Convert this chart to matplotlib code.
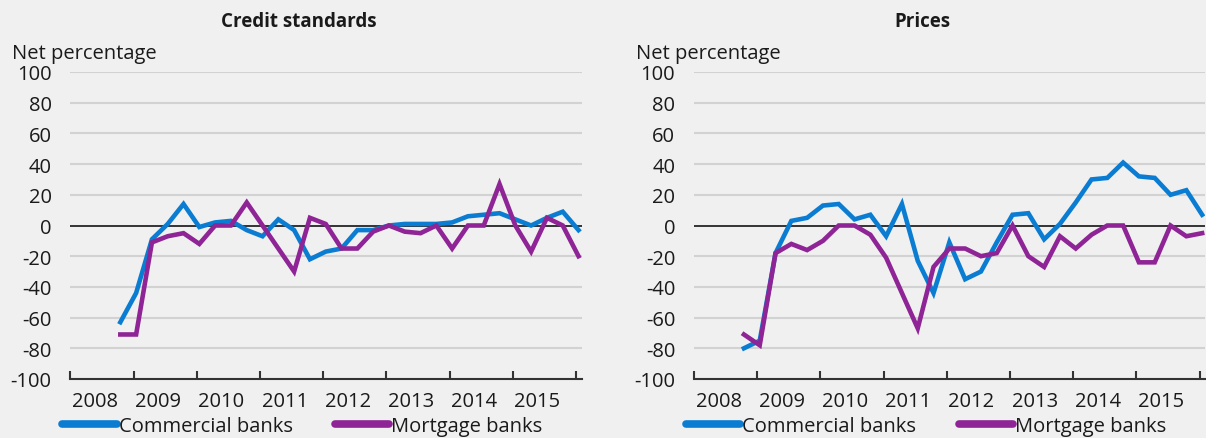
import matplotlib
matplotlib.use("Agg")
import matplotlib.pyplot as plt
from matplotlib.lines import Line2D
import numpy as np
import pandas as pd

# quarterly survey, 2008Q4 - 2016Q1
quarters = pd.period_range("2008Q4", "2016Q1", freq="Q")
years = list(range(2008, 2016))

credit_commercial = [-63, -44, -9, 1, 14, -1, 2, 3, -3, -7, 4, -3, -22, -17, -15,
                     -3, -3, 0, 1, 1, 1, 2, 6, 7, 8, 4, 0, 5, 9, -3]
credit_mortgage = [-71, -71, -11, -7, -5, -12, 0, 0, 15, 0, -15, -30, 5, 1, -15,
                   -15, -4, 0, -4, -5, 0, -15, 0, 0, 27, 0, -17, 5, 0, -20]
prices_commercial = [-80, -75, -18, 3, 5, 13, 14, 4, 7, -7, 14, -23, -44, -11, -35,
                     -30, -11, 7, 8, -9, 1, 15, 30, 31, 41, 32, 31, 20, 23, 7]
prices_mortgage = [-71, -78, -18, -12, -16, -10, 0, 0, -6, -21, -44, -67, -27, -15, -15,
                   -20, -18, 0, -20, -27, -7, -15, -6, 0, 0, -24, -24, 0, -7, -5]

titles = ["Credit standards", "Prices"]
series_names = ["Commercial banks", "Mortgage banks"]

BLUE = "#0a7dd2"
PURPLE = "#8e2495"
BG = "#f0f0f0"
TXT = "#1a1a1a"
FONT = "Open Sans"
FS = 14.5

plt.rcParams["font.family"] = [FONT, "DejaVu Sans"]
plt.rcParams["font.size"] = FS
plt.rcParams["axes.unicode_minus"] = False

# x position of each quarter (mid-month of first month in quarter)
xpos = np.array([q.year + (q.quarter - 1) / 4 + 0.04 for q in quarters])

W, H = 1206, 439
fig = plt.figure(figsize=(W / 100, H / 100), dpi=100, facecolor=BG)

panels = [
    (70.4, titles[0], credit_commercial, credit_mortgage, 299),
    (694.0, titles[1], prices_commercial, prices_mortgage, 922),
]
ax_w = 511.3
for left_px, title, comm, mort, title_x in panels:
    ax = fig.add_axes([left_px / W, (H - 380) / H, ax_w / W, 307 / H])
    ax.set_facecolor(BG)
    ax.set_ylim(-100, 100)
    ax.set_xlim(2008, 2008 + ax_w / 63.2)
    ax.set_yticks(range(-100, 101, 20))
    for v in range(-80, 101, 20):
        if v != 0:
            ax.axhline(v, color="#d2d2d2", lw=1.5, zorder=0)
    ax.axhline(0, color="black", lw=1.1, zorder=1)

    ax.plot(xpos, comm, color=BLUE, lw=3.3, zorder=3, solid_joinstyle="miter")
    ax.plot(xpos, mort, color=PURPLE, lw=3.3, zorder=3, solid_joinstyle="miter")

    for s in ["left", "right", "top"]:
        ax.spines[s].set_visible(False)
    ax.spines["bottom"].set_color("#333333")
    ax.spines["bottom"].set_linewidth(1.5)

    ax.set_xticks(range(2008, 2017))
    ax.set_xticklabels([])
    ax.set_xticks([y + 0.39 for y in years], minor=True)
    ax.set_xticklabels([str(y) for y in years], minor=True, color=TXT, fontsize=FS)
    ax.tick_params(axis="x", which="major", direction="in", length=6, width=1.5, color="#333333")
    ax.tick_params(axis="x", which="minor", length=0, pad=9)
    ax.tick_params(axis="y", length=0, pad=13.5, labelcolor=TXT, labelsize=FS)

    fig.text(left_px - 58, H - 54, "Net percentage", transform=None, fontsize=FS,
             color=TXT, ha="left", va="center")
    fig.text(title_x / W, 1 - 22 / H, title, fontsize=FS - 1, fontweight="bold",
             color=TXT, ha="center", va="center")

    handles = [Line2D([], [], color=BLUE, lw=5.5, solid_capstyle="round"),
               Line2D([], [], color=PURPLE, lw=5.5, solid_capstyle="round")]
    ax.legend(handles, series_names, loc="center", ncol=2, frameon=False,
              bbox_to_anchor=((left_px + 232) / W, 12 / H), bbox_transform=fig.transFigure,
              handlelength=2.7, handletextpad=0.1, columnspacing=2.1, fontsize=FS,
              labelcolor=TXT)

fig.savefig("out.png", dpi=100, facecolor=BG)
